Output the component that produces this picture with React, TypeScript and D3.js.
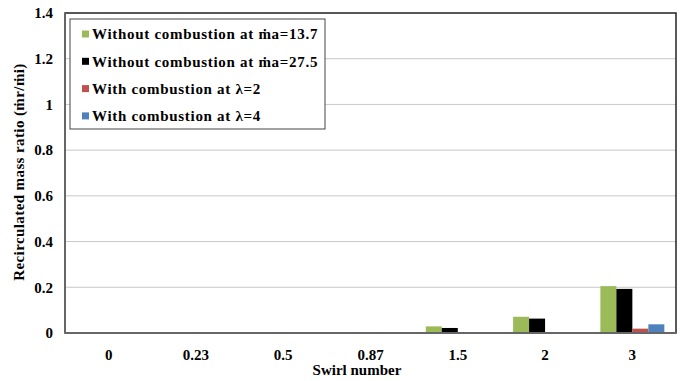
import React from "react";
import * as d3 from "d3";

const categories = ["0", "0.23", "0.5", "0.87", "1.5", "2", "3"];
const seriesNames = [
  "Without combustion at \u1E41a=13.7",
  "Without combustion at \u1E41a=27.5",
  "With combustion at \u03BB=2",
  "With combustion at \u03BB=4",
];
const seriesColors = ["#9bbb59", "#000000", "#c0504d", "#4f81bd"];
const noCombustion137 = [0, 0, 0, 0, 0.029, 0.071, 0.205];
const noCombustion275 = [0, 0, 0, 0, 0.022, 0.063, 0.193];
const combustionL2 = [0, 0, 0, 0, 0, 0, 0.019];
const combustionL4 = [0, 0, 0, 0, 0, 0, 0.038];
const yTicks = [0, 0.2, 0.4, 0.6, 0.8, 1, 1.2, 1.4];

const series = [noCombustion137, noCombustion275, combustionL2, combustionL4];

const W = 686;
const H = 381;
const margin = { left: 65, right: 10, top: 13, bottom: 48 };
const font = '"Liberation Serif", "Times New Roman", serif';

export default function App() {
  const x0 = d3
    .scaleBand<string>()
    .domain(categories)
    .range([margin.left, W - margin.right])
    .paddingInner(0.267)
    .paddingOuter(0.1335);
  const x1 = d3
    .scaleBand<number>()
    .domain(d3.range(series.length))
    .range([0, x0.bandwidth()]);
  const y = d3
    .scaleLinear()
    .domain([0, 1.4])
    .range([H - margin.bottom, margin.top]);

  const left = margin.left;
  const right = W - margin.right;
  const top = margin.top;
  const bottom = H - margin.bottom;

  return (
    <svg
      width={W}
      height={H}
      style={{ position: "absolute", left: 0, top: 0, background: "#fff", fontFamily: font, fontWeight: "bold" }}
    >
      {yTicks.map((t) => (
        <g key={t}>
          {t > 0 && t < 1.4 && (
            <line x1={left} x2={right} y1={y(t)} y2={y(t)} stroke="#c8c8c8" strokeWidth={1} />
          )}
          <text x={left - 12} y={y(t)} dy="0.35em" textAnchor="end" fontSize={15}>
            {String(t)}
          </text>
        </g>
      ))}
      {series.map((vals, si) =>
        vals.map((v, ci) => (
          <rect
            key={`${si}-${ci}`}
            x={(x0(categories[ci]) as number) + (x1(si) as number)}
            y={y(v)}
            width={x1.bandwidth()}
            height={y(0) - y(v)}
            fill={seriesColors[si]}
          />
        ))
      )}
      <rect x={left} y={top} width={right - left} height={bottom - top} fill="none" stroke="#222" strokeWidth={1.5} />
      <line x1={left} x2={left} y1={top} y2={bottom} stroke="#666" strokeWidth={2} />
      <line x1={left} x2={right} y1={bottom} y2={bottom} stroke="#666" strokeWidth={2} />
      {categories.map((c) => (
        <text
          key={c}
          x={(x0(c) as number) + x0.bandwidth() / 2}
          y={360}
          textAnchor="middle"
          fontSize={15}
        >
          {c}
        </text>
      ))}
      <text x={357} y={375} textAnchor="middle" fontSize={15}>
        Swirl number
      </text>
      <text
        transform={`translate(24, ${172}) rotate(-90)`}
        textAnchor="middle"
        fontSize={15}
        letterSpacing={0.4}
      >
        {"Recirculated mass ratio (\u1E41r/\u1E41i)"}
      </text>
      <g>
        <rect x={70} y={19} width={255} height={110} fill="#fff" stroke="#444" strokeWidth={1} />
        {seriesNames.map((n, i) => (
          <g key={n} transform={`translate(82, ${34 + i * 27.3})`}>
            <rect x={0} y={-3.5} width={7} height={7} fill={seriesColors[i]} />
            <text x={10} y={0} dy="0.35em" fontSize={15} letterSpacing={0.7}>
              {n}
            </text>
          </g>
        ))}
      </g>
    </svg>
  );
}
